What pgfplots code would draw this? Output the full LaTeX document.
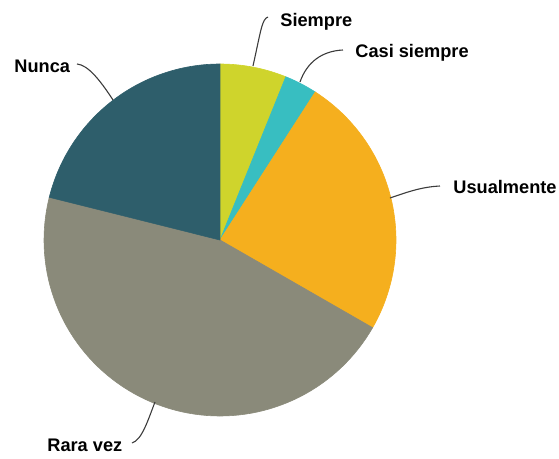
\documentclass[border=0pt]{standalone}
\usepackage{pgfplots}
\pgfplotsset{compat=1.18}
\usepackage{fontspec}
\setmainfont{Liberation Sans}
\definecolor{cSiempre}{RGB}{207,212,44}
\definecolor{cCasi}{RGB}{56,190,193}
\definecolor{cUsual}{RGB}{245,175,30}
\definecolor{cRara}{RGB}{138,138,122}
\definecolor{cNunca}{RGB}{46,94,107}
\definecolor{leader}{RGB}{60,60,60}
\tikzset{
  lbl/.style={font=\fontsize{9.1}{11}\selectfont\bfseries, anchor=base west, inner sep=0pt},
  ldr/.style={draw=leader, line width=0.55pt},
}
\begin{document}
\begin{tikzpicture}
\begin{axis}[
  scale only axis, width=279.5pt, height=229pt,
  xmin=0, xmax=559, ymin=0, ymax=458, y dir=reverse,
  hide axis, clip=false,
  samples=80, variable=\t,
]
\path (axis cs:0,0) rectangle (axis cs:559,458);
% shares in percent (clockwise from 12 o'clock):
% Siempre 6.1, Casi siempre 3.0, Usualmente 24.2, Rara vez 45.6, Nunca 21.1
\addplot[fill=cSiempre, draw=cSiempre, line width=0.3pt, domain=0:6.1*3.6]
  ({220+176*sin(\t)},{240-176*cos(\t)}) -- (axis cs:220,240) -- cycle;
\addplot[fill=cCasi, draw=cCasi, line width=0.3pt, domain=6.1*3.6:(6.1+3.0)*3.6]
  ({220+176*sin(\t)},{240-176*cos(\t)}) -- (axis cs:220,240) -- cycle;
\addplot[fill=cUsual, draw=cUsual, line width=0.3pt, domain=(6.1+3.0)*3.6:(6.1+3.0+24.2)*3.6]
  ({220+176*sin(\t)},{240-176*cos(\t)}) -- (axis cs:220,240) -- cycle;
\addplot[fill=cRara, draw=cRara, line width=0.3pt, domain=(6.1+3.0+24.2)*3.6:(6.1+3.0+24.2+45.6)*3.6]
  ({220+176*sin(\t)},{240-176*cos(\t)}) -- (axis cs:220,240) -- cycle;
\addplot[fill=cNunca, draw=cNunca, line width=0.3pt, domain=(6.1+3.0+24.2+45.6)*3.6:360]
  ({220+176*sin(\t)},{240-176*cos(\t)}) -- (axis cs:220,240) -- cycle;

% leader lines
\draw[ldr] (axis cs:268,17) .. controls (axis cs:262,19) and (axis cs:261,30) .. (axis cs:253,66);
\draw[ldr] (axis cs:343,50) .. controls (axis cs:322,51) and (axis cs:307,62) .. (axis cs:300,82);
\draw[ldr] (axis cs:440,186) .. controls (axis cs:420,187) and (axis cs:405,193) .. (axis cs:390,198);
\draw[ldr] (axis cs:77,64) .. controls (axis cs:88,65) and (axis cs:100,80) .. (axis cs:113,100);
\draw[ldr] (axis cs:132,443) .. controls (axis cs:142,440) and (axis cs:148,420) .. (axis cs:155,402);

% labels
\node[lbl] at (axis cs:280,26.5) {Siempre};
\node[lbl] at (axis cs:355,58) {Casi siempre};
\node[lbl] at (axis cs:453,193) {Usualmente};
\node[lbl] at (axis cs:14,72.5) {Nunca};
\node[lbl] at (axis cs:47,451.5) {Rara vez};
\end{axis}
\end{tikzpicture}
\end{document}
